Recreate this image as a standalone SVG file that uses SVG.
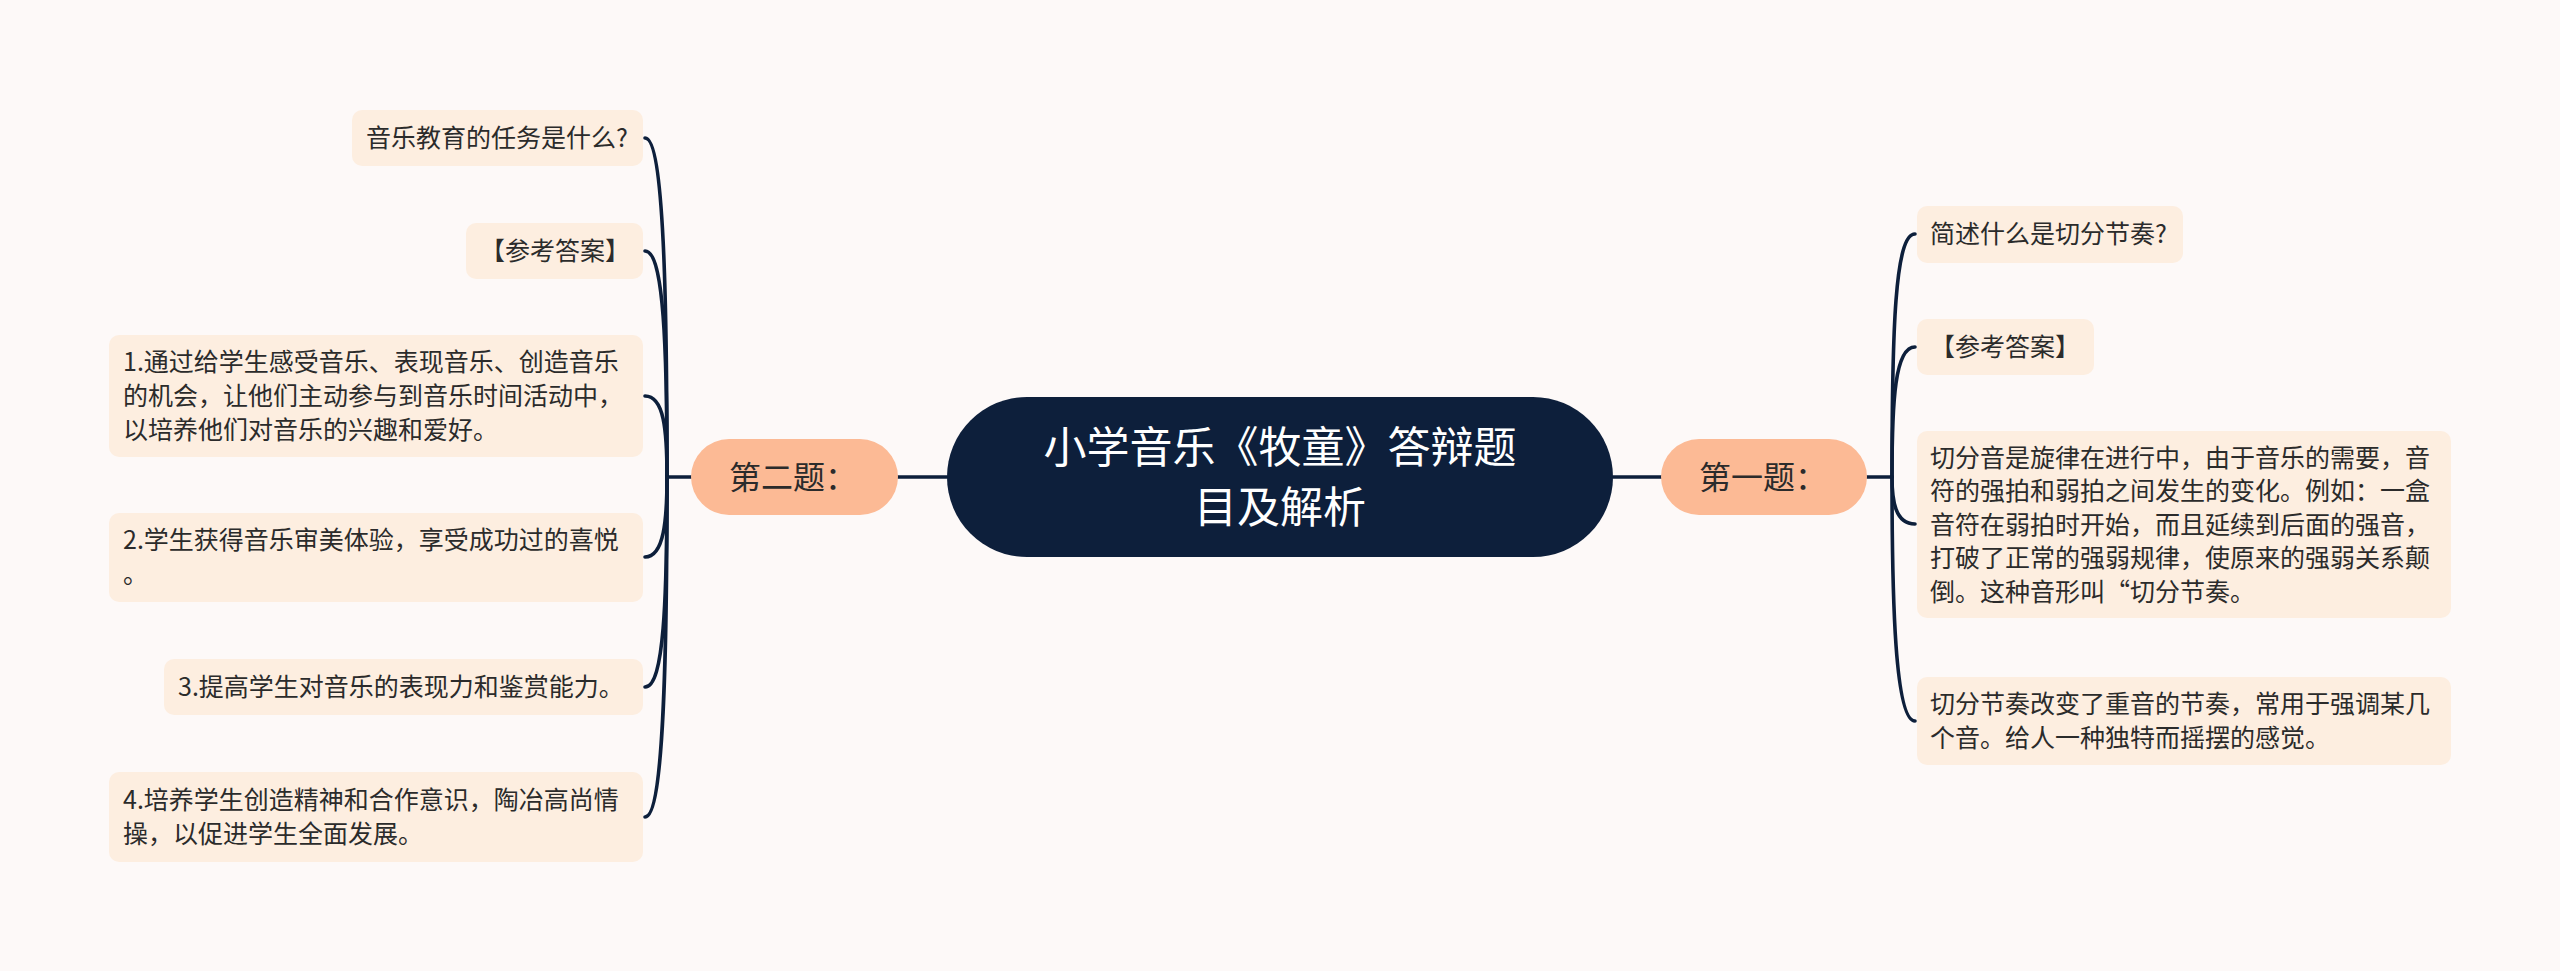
<svg xmlns="http://www.w3.org/2000/svg" width="2560" height="971" viewBox="0 0 2560 971">
<style>
.leaf{fill:#fdeee0}
.lt{font-family:"Noto Sans CJK SC","Noto Sans",sans-serif;font-size:25px;fill:#2b2b2b}
.sub{fill:#fcba95}
.st{font-family:"Noto Sans CJK SC","Noto Sans",sans-serif;font-size:32px;fill:#2b2b2b}
.tt{font-family:"Noto Sans CJK SC","Noto Sans",sans-serif;font-size:43px;fill:#ffffff}
.ln{fill:none;stroke:#0d1f3b;stroke-width:3.6;stroke-linecap:round}
</style>
<rect x="0" y="0" width="2560" height="971" fill="#fdf9f8"/>
<g id="connectors">
<path class="ln" d="M898 477 L947 477"/>
<path class="ln" d="M1613 477 L1662 477"/>
<path class="ln" d="M691 477 L667 477"/>
<path class="ln" d="M1867 477 L1892 477"/>
<path class="ln" d="M667 477 C667 300 664 138 645 138"/>
<path class="ln" d="M667 477 C667 350 664 251 645 251"/>
<path class="ln" d="M667 477 C667 430 664 396 645 396"/>
<path class="ln" d="M667 477 C667 520 664 557 645 557"/>
<path class="ln" d="M667 477 C667 600 664 687 645 687"/>
<path class="ln" d="M667 477 C667 650 664 817 645 817"/>
<path class="ln" d="M1892 477 C1892 330 1895 234 1915 234"/>
<path class="ln" d="M1892 477 C1892 400 1895 347 1915 347"/>
<path class="ln" d="M1892 477 C1892 500 1895 524 1915 524"/>
<path class="ln" d="M1892 477 C1892 600 1895 721 1915 721"/>
</g>
<g id="center">
<rect x="947" y="397" width="666" height="160" rx="80" fill="#0d1f3b"/>
<text class="tt" x="1280" y="463" text-anchor="middle">小学音乐《牧童》答辩题</text>
<text class="tt" x="1280" y="523" text-anchor="middle">目及解析</text>
</g>
<g id="q2">
<rect class="sub" x="691" y="439" width="207" height="76" rx="38"/>
<text class="st" x="729" y="489">第二题：</text>
</g>
<g id="q1">
<rect class="sub" x="1661" y="439" width="206" height="76" rx="38"/>
<text class="st" x="1699" y="489">第一题：</text>
</g>
<g id="l1">
<rect class="leaf" x="352" y="110" width="291" height="56" rx="10"/>
<text class="lt" x="366" y="147">音乐教育的任务是什么?</text>
</g>
<g id="l2">
<rect class="leaf" x="466" y="223" width="177" height="56" rx="10"/>
<text class="lt" x="480" y="260">【参考答案】</text>
</g>
<g id="l3">
<rect class="leaf" x="109" y="335" width="534" height="122" rx="10"/>
<text class="lt" x="123" y="371">1.通过给学生感受音乐、表现音乐、创造音乐</text>
<text class="lt" x="123" y="405">的机会，让他们主动参与到音乐时间活动中，</text>
<text class="lt" x="123" y="439">以培养他们对音乐的兴趣和爱好。</text>
</g>
<g id="l4">
<rect class="leaf" x="109" y="513" width="534" height="89" rx="10"/>
<text class="lt" x="123" y="549">2.学生获得音乐审美体验，享受成功过的喜悦</text>
<text class="lt" x="123" y="583">。</text>
</g>
<g id="l5">
<rect class="leaf" x="164" y="659" width="479" height="56" rx="10"/>
<text class="lt" x="178" y="696">3.提高学生对音乐的表现力和鉴赏能力。</text>
</g>
<g id="l6">
<rect class="leaf" x="109" y="772" width="534" height="90" rx="10"/>
<text class="lt" x="123" y="809">4.培养学生创造精神和合作意识，陶冶高尚情</text>
<text class="lt" x="123" y="843">操，以促进学生全面发展。</text>
</g>
<g id="r1">
<rect class="leaf" x="1917" y="206" width="266" height="57" rx="10"/>
<text class="lt" x="1930" y="243">简述什么是切分节奏?</text>
</g>
<g id="r2">
<rect class="leaf" x="1917" y="319" width="177" height="56" rx="10"/>
<text class="lt" x="1930" y="356">【参考答案】</text>
</g>
<g id="r3">
<rect class="leaf" x="1917" y="431" width="534" height="187" rx="10"/>
<text class="lt" x="1930" y="467">切分音是旋律在进行中，由于音乐的需要，音</text>
<text class="lt" x="1930" y="500">符的强拍和弱拍之间发生的变化。例如：一盒</text>
<text class="lt" x="1930" y="534">音符在弱拍时开始，而且延续到后面的强音，</text>
<text class="lt" x="1930" y="567">打破了正常的强弱规律，使原来的强弱关系颠</text>
<text class="lt" x="1930" y="601">倒。这种音形叫“切分节奏。</text>
</g>
<g id="r4">
<rect class="leaf" x="1917" y="677" width="534" height="88" rx="10"/>
<text class="lt" x="1930" y="713">切分节奏改变了重音的节奏，常用于强调某几</text>
<text class="lt" x="1930" y="747">个音。给人一种独特而摇摆的感觉。</text>
</g>
</svg>
